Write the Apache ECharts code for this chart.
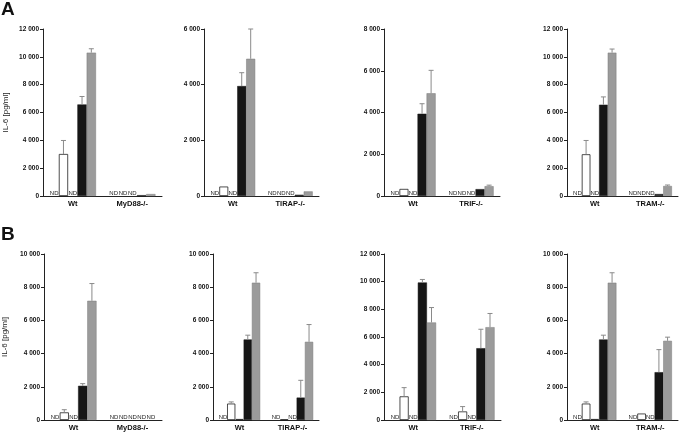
<!DOCTYPE html>
<html>
<head>
<meta charset="utf-8">
<script src="https://cdn.jsdelivr.net/npm/echarts@6/dist/echarts.min.js"></script>
<style>
html,body{margin:0;padding:0;background:#fff;}
#chart{width:685px;height:433px;}
</style>
</head>
<body>
<div id="chart"></div>
<script>
// ---- DATA (null = ND, not detected) ----
// 5 bar series per group: [white1, white2, white3, black, grey]
const catsA1 = ['Wt', 'MyD88-/-'];
const catsA2 = ['Wt', 'TIRAP-/-'];
const catsA3 = ['Wt', 'TRIF-/-'];
const catsA4 = ['Wt', 'TRAM-/-'];
const catsB1 = ['Wt', 'MyD88-/-'];
const catsB2 = ['Wt', 'TIRAP-/-'];
const catsB3 = ['Wt', 'TRIF-/-'];
const catsB4 = ['Wt', 'TRAM-/-'];

// values[series][category]
const valsA1 = [[null, null], [3020, null], [null, null], [6580, 60], [10300, 140]];
const errsA1 = [[null, null], [3990, null], [null, null], [7150, null], [10580, null]];
const valsA2 = [[null, null], [340, null], [null, null], [3950, 45], [4930, 165]];
const errsA2 = [[null, null], [null, null], [null, null], [4430, null], [6000, null]];
const valsA3 = [[null, null], [340, null], [null, null], [3940, 330], [4920, 470]];
const errsA3 = [[null, null], [null, null], [null, null], [4420, null], [6020, 520]];
const valsA4 = [[null, null], [3000, null], [null, null], [6560, 140], [10300, 720]];
const errsA4 = [[null, null], [3990, null], [null, null], [7120, null], [10560, 790]];
const valsB1 = [[null, null], [460, null], [null, null], [2060, null], [7180, null]];
const errsB1 = [[null, null], [620, null], [null, null], [2190, null], [8220, null]];
const valsB2 = [[null, null], [990, 30], [60, null], [4850, 1350], [8270, 4710]];
const errsB2 = [[null, null], [1090, null], [null, null], [5110, 2390], [8870, 5750]];
const valsB3 = [[null, null], [1710, 620], [null, null], [9940, 5190], [7050, 6710]];
const errsB3 = [[null, null], [2340, 970], [null, null], [10160, 6560], [8130, 7700]];
const valsB4 = [[null, null], [990, 390], [60, null], [4850, 2880], [8270, 4770]];
const errsB4 = [[null, null], [1090, null], [null, null], [5110, 4240], [8870, 4990]];

const yMaxA = [12000, 6000, 8000, 12000];
const yMaxB = [10000, 10000, 12000, 10000];
const yInterval = 2000;
const yTitle = 'IL-6 [pg/ml]';
const panelLetters = ['A', 'B'];

// ---- LAYOUT ----
const panels = [
  {cats: catsA1, vals: valsA1, errs: errsA1, max: yMaxA[0], left: 43, top: 29, width: 119, height: 167, title: true, gap: 33},
  {cats: catsA2, vals: valsA2, errs: errsA2, max: yMaxA[1], left: 204, top: 29, width: 115, height: 167},
  {cats: catsA3, vals: valsA3, errs: errsA3, max: yMaxA[2], left: 384, top: 29, width: 116, height: 167},
  {cats: catsA4, vals: valsA4, errs: errsA4, max: yMaxA[3], left: 567, top: 29, width: 111, height: 167},
  {cats: catsB1, vals: valsB1, errs: errsB1, max: yMaxB[0], left: 42, top: 254, width: 120, height: 166, title: true, gap: 35},
  {cats: catsB2, vals: valsB2, errs: errsB2, max: yMaxB[1], left: 213, top: 254, width: 106, height: 166},
  {cats: catsB3, vals: valsB3, errs: errsB3, max: yMaxB[2], left: 384, top: 254, width: 117, height: 166},
  {cats: catsB4, vals: valsB4, errs: errsB4, max: yMaxB[3], left: 567, top: 254, width: 111, height: 166}
];

const FONT = 'Liberation Sans, Arial, sans-serif';
const GAP = 0.22;
const barStyles = [
  {color: '#ffffff', borderColor: '#222', borderWidth: 0.8},
  {color: '#ffffff', borderColor: '#222', borderWidth: 0.8},
  {color: '#ffffff', borderColor: '#222', borderWidth: 0.8},
  {color: '#161616', borderColor: '#161616', borderWidth: 0.5},
  {color: '#9b9b9b', borderColor: '#7a7a7a', borderWidth: 0.5}
];

function fmt(v) {
  return String(v).replace(/\B(?=(\d{3})+(?!\d))/g, ' ');
}

const grid = [], xAxis = [], yAxis = [], series = [];
panels.forEach((p, pi) => {
  grid.push({left: p.left, top: p.top, width: p.width, height: p.height});
  xAxis.push({
    type: 'category', gridIndex: pi, data: p.cats,
    axisLine: {lineStyle: {color: '#222', width: 1}},
    axisTick: {alignWithLabel: true, length: 3, lineStyle: {color: '#222'}},
    axisLabel: {fontFamily: FONT, fontSize: 7.5, fontWeight: 'bold', color: '#111', margin: 4, interval: 0}
  });
  yAxis.push({
    type: 'value', gridIndex: pi, min: 0, max: p.max, interval: yInterval,
    name: p.title ? yTitle : '', nameLocation: 'middle', nameRotate: 90, nameGap: p.gap || 30,
    nameTextStyle: {fontFamily: FONT, fontSize: 8, color: '#222'},
    axisLine: {show: true, lineStyle: {color: '#222', width: 1}},
    axisTick: {show: true, length: 3, lineStyle: {color: '#222'}},
    axisLabel: {fontFamily: FONT, fontSize: 6.5, fontWeight: 'bold', color: '#111', margin: 4, formatter: fmt},
    splitLine: {show: false}
  });
  p.vals.forEach((arr, si) => {
    series.push({
      type: 'bar', xAxisIndex: pi, yAxisIndex: pi,
      barGap: '0%', barCategoryGap: (GAP * 100) + '%',
      itemStyle: barStyles[si],
      silent: true, animation: false,
      data: arr.map(v => v === null
        ? {value: 0, itemStyle: {borderWidth: 0, color: 'rgba(0,0,0,0)'},
           label: {show: true, position: 'top', distance: 0, formatter: 'ND', fontFamily: FONT, fontSize: 6, color: '#222'}}
        : v)
    });
  });
  const errData = [];
  p.errs.forEach((arr, si) => {
    arr.forEach((e, ci) => {
      if (e !== null && p.vals[si][ci] !== null) errData.push([ci, si, e, p.vals[si][ci]]);
    });
  });
  series.push({
    type: 'custom', xAxisIndex: pi, yAxisIndex: pi, z: 5, silent: true, animation: false,
    data: errData,
    renderItem: function (params, api) {
      const ci = api.value(0), si = api.value(1);
      const band = api.size([1, 0])[0];
      const bw = band * (1 - GAP) / 5;
      const x = api.coord([ci, 0])[0] + (si - 2) * bw;
      const yTop = api.coord([ci, api.value(2)])[1];
      const yBase = api.coord([ci, api.value(3)])[1];
      const st = {stroke: '#8a8a8a', lineWidth: 1};
      return {
        type: 'group',
        children: [
          {type: 'line', shape: {x1: x, y1: yBase, x2: x, y2: yTop}, style: st},
          {type: 'line', shape: {x1: x - 2.5, y1: yTop, x2: x + 2.5, y2: yTop}, style: st}
        ]
      };
    }
  });
});

const chart = echarts.init(document.getElementById('chart'), null, {renderer: 'canvas'});
chart.setOption({
  backgroundColor: '#ffffff',
  animation: false,
  grid, xAxis, yAxis, series,
  graphic: [
    {type: 'text', left: 1, top: 0, style: {text: panelLetters[0], fontFamily: FONT, fontSize: 19, fontWeight: 'bold', fill: '#111'}},
    {type: 'text', left: 1, top: 225, style: {text: panelLetters[1], fontFamily: FONT, fontSize: 19, fontWeight: 'bold', fill: '#111'}}
  ]
});
</script>
</body>
</html>
